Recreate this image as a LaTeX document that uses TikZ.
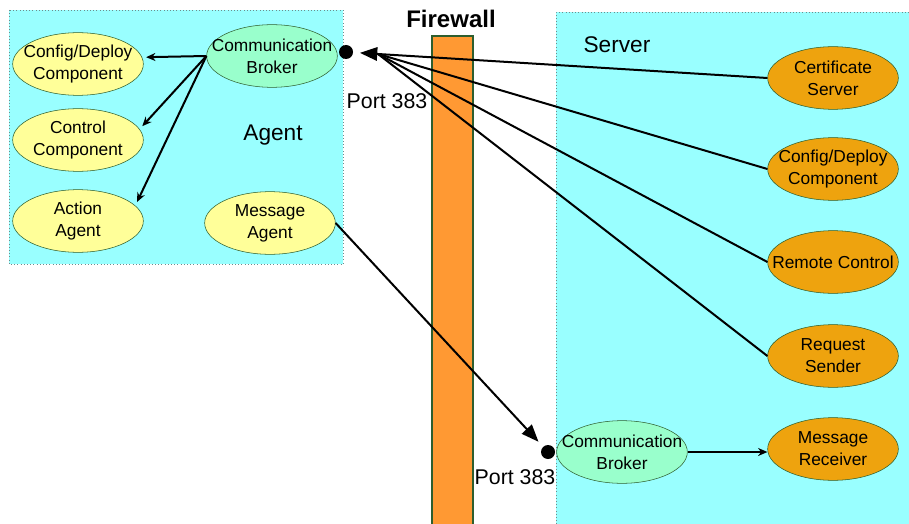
\documentclass[tikz,border=0pt]{standalone}
\usepackage{fontspec}
\setmainfont{Liberation Sans}
\usetikzlibrary{shapes}
\usetikzlibrary{arrows.meta}
\usepackage{xcolor}
\definecolor{zonecyan}{HTML}{99FFFF}
\definecolor{partyellow}{HTML}{FFFF99}
\definecolor{brokergreen}{HTML}{99FFCC}
\definecolor{partorange}{HTML}{EEA30E}
\definecolor{wallorange}{HTML}{FF9933}
\definecolor{edgegreen}{HTML}{2E5E2E}
\definecolor{dotgrey}{HTML}{6E8C8C}

\begin{document}
\begin{tikzpicture}[x=.75pt,y=-.75pt,
  part/.style={ellipse,draw=edgegreen,minimum width=98pt,minimum height=47pt,inner xsep=-20pt,inner ysep=-8pt,align=center,font=\fontsize{13}{16.5}\selectfont},
  agentpart/.style={part,fill=partyellow},
  brokerpart/.style={part,fill=brokergreen},
  serverpart/.style={part,fill=partorange},
  port/.style={circle,fill=black,minimum size=10.5pt,inner sep=0pt},
  link/.style={line width=1.5pt},
  bigtip/.style={-{Triangle[length=13pt,width=10pt]},shorten >=5pt},
  zonelabel/.style={font=\fontsize{17}{20}\selectfont}]
\useasboundingbox (0,0) rectangle (909,524);
\fill[white] (0,0) rectangle (909,524);
% the two zones
\fill[zonecyan] (9,10) rectangle (343,264);
\draw[dotted,dotgrey] (9,10) rectangle (343,264);
\fill[zonecyan] (556,12) rectangle (909,524);
\draw[dotted,dotgrey] (556,524)--(556,12)--(909,12);
% firewall
\filldraw[fill=wallorange,draw=edgegreen,line width=1.2pt] (432,36) rectangle (473,530);
\node[font=\bfseries\fontsize{18}{20}\selectfont] (fwlabel) at (451,19) {Firewall};
% agent side
\node[agentpart] (cfgA) at (78,64) {Config/Deploy\\Component};
\node[agentpart] (ctlA) at (78,140) {Control\\Component};
\node[agentpart] (actA) at (78,221) {Action\\Agent};
\node[brokerpart] (cbA) at (272,56) {Communication\\Broker};
\node[agentpart] (msgA) at (270,223) {Message\\Agent};
\node[zonelabel] (agentlbl) at (273,135) {Agent};
\node[port] (portA) at (346,52) {};
\node[font=\fontsize{16}{18}\selectfont] (portAlbl) at (387,101) {Port 383};
% server side
\node[zonelabel] (serverlbl) at (617,45) {Server};
\node[serverpart] (cert) at (833,78) {Certificate\\Server};
\node[serverpart] (cfgS) at (833,169) {Config/Deploy\\Component};
\node[serverpart] (remote) at (833,262) {Remote Control};
\node[serverpart] (req) at (833,356) {Request\\Sender};
\node[brokerpart] (cbS) at (622,452) {Communication\\Broker};
\node[serverpart] (msgR) at (833,449) {Message\\Receiver};
\node[port] (portS) at (548,452) {};
\node[font=\fontsize{16}{18}\selectfont] (portSlbl) at (515,477) {Port 383};
% connectors
\coordinate (hub) at (378,54);
\draw[link,bigtip] (hub) -- (portA);
\draw[link] (cert.west) -- (hub);
\draw[link] (cfgS.west) -- (hub);
\draw[link] (remote.west) -- (hub);
\draw[link] (req.west) -- (hub);
\draw[link,bigtip] (msgA.east) -- (portS);
\draw[link,-{Stealth[length=7pt,width=6pt]}] (cbS.east) -- (cbS.east -| msgR.west);
\draw[link,-{Stealth[length=7pt,width=6pt]},shorten >=3pt] (cbA.west) -- (cfgA.6);
\draw[link,-{Stealth[length=7pt,width=6pt]},shorten >=3pt] (cbA.west) -- (ctlA.10);
\draw[link,-{Stealth[length=7pt,width=6pt]},shorten >=3pt] (cbA.west) -- (actA.15);
\end{tikzpicture}
\end{document}
